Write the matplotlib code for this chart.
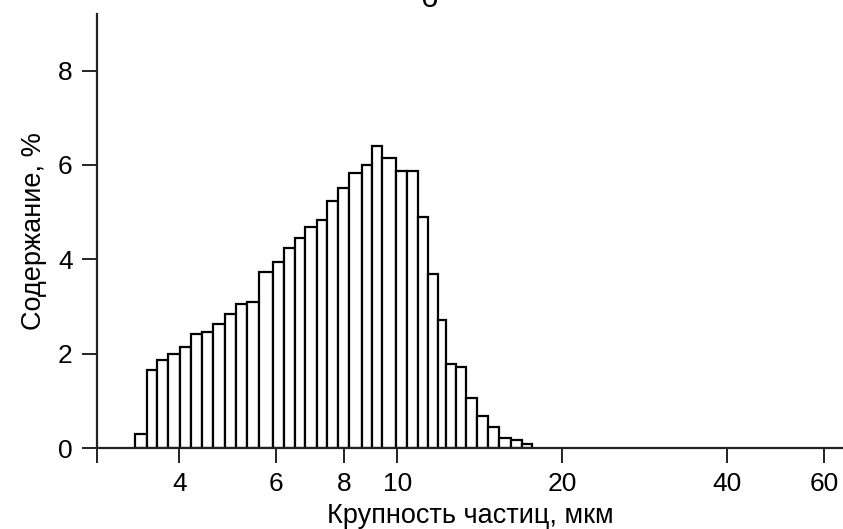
import numpy as np
import matplotlib.pyplot as plt
from matplotlib.ticker import NullLocator

plt.rcParams['font.family'] = ['Liberation Sans', 'DejaVu Sans']

# границы интервалов крупности, мкм
bin_edges = [3.315, 3.485, 3.636, 3.818, 4.010, 4.194, 4.392, 4.600, 4.844,
             5.074, 5.307, 5.596, 5.920, 6.215, 6.501, 6.780, 7.122, 7.446,
             7.779, 8.166, 8.603, 8.972, 9.358, 9.94, 10.42, 10.91, 11.38,
             11.87, 12.26, 12.79, 13.34, 13.95, 14.65, 15.34, 16.11, 16.85,
             17.58]

# содержание фракции, %
content = [0.29, 1.66, 1.86, 1.99, 2.14, 2.41, 2.46, 2.62, 2.84, 3.06, 3.09,
           3.73, 3.94, 4.25, 4.46, 4.69, 4.84, 5.23, 5.51, 5.82, 5.99, 6.41,
           6.15, 5.88, 5.88, 4.89, 3.68, 2.71, 1.78, 1.72, 1.05, 0.68, 0.45,
           0.21, 0.16, 0.08]

x_ticks = [4, 6, 8, 10, 20, 40, 60]
y_ticks = [0, 2, 4, 6, 8]

fig = plt.figure(figsize=(8.43, 5.29), dpi=100)
ax = fig.add_axes([0.1151, 0.1531, 0.8849, 0.8204])

edges = np.array(bin_edges)
ax.bar(edges[:-1], content, width=np.diff(edges), align='edge',
       color='white', edgecolor='black', linewidth=1.6, zorder=2)

ax.set_xscale('log')
ax.set_xlim(2.83, 65.0)
ax.set_ylim(0, 9.2)

ax.xaxis.set_minor_locator(NullLocator())
ax.set_xticks([2.83] + x_ticks)
ax.set_xticklabels([''] + [str(t) for t in x_ticks])
ax.set_yticks(y_ticks)

for side in ('top', 'right'):
    ax.spines[side].set_visible(False)
for side in ('left', 'bottom'):
    ax.spines[side].set_linewidth(1.6)
    ax.spines[side].set_color('#222222')

ax.tick_params(axis='both', direction='out', length=10.5, width=1.4,
               color='#222222', labelsize=19)
ax.tick_params(axis='x', pad=7)
ax.tick_params(axis='y', pad=7)

ax.set_xlabel('Крупность частиц, мкм', fontsize=19.5, labelpad=5)
ax.set_ylabel('Содержание, %', fontsize=19.5, labelpad=8)

fig.text(0.509, 0.987, 'б', fontsize=22, ha='center', va='baseline')

fig.savefig('out.png', dpi=100, facecolor='white')
